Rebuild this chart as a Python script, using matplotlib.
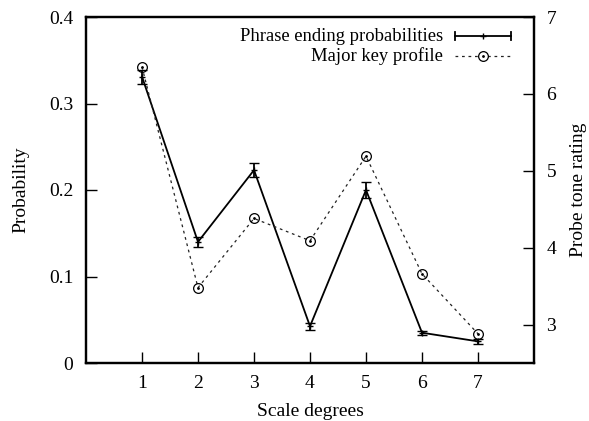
import matplotlib
matplotlib.use("Agg")
import matplotlib.pyplot as plt

plt.rcParams['font.family'] = ['Liberation Serif', 'DejaVu Serif']
plt.rcParams['font.size'] = 14

# scale degrees
degrees = [1, 2, 3, 4, 5, 6, 7]
# phrase ending probabilities and their error bars (left axis)
ending_prob = [0.331, 0.140, 0.223, 0.0425, 0.200, 0.035, 0.025]
ending_err = [0.008, 0.006, 0.008, 0.004, 0.009, 0.0025, 0.0025]
# Krumhansl-Kessler major key profile (right axis)
major_profile = [6.35, 3.48, 4.38, 4.09, 5.19, 3.66, 2.88]

fig = plt.figure(figsize=(5.89, 4.21), dpi=100)
ax = fig.add_axes([86/589, 58/421, 448/589, 346/421])
ax2 = ax.twinx()

ax.errorbar(degrees, ending_prob, yerr=ending_err, fmt='-', color='black',
            lw=1.3, capsize=3.3, capthick=1.3, elinewidth=1.3,
            marker='+', markersize=4, markeredgewidth=1)
ax2.plot(degrees, major_profile, color='#222222', lw=0.9, dashes=(2.2, 3),
         marker='o', markersize=7, markerfacecolor='none',
         markeredgecolor='black', markeredgewidth=0.9)
ax2.plot(degrees, major_profile, ls='none', color='black', marker='.', markersize=2)

ax.set_xlim(0, 8)
ax.set_ylim(0, 0.4)
ax2.set_ylim(2.5, 7)
ax.set_xticks(degrees)
ax.set_yticks([0, 0.1, 0.2, 0.3, 0.4])
ax.set_yticklabels(['0', '0.1', '0.2', '0.3', '0.4'])
ax2.set_yticks([3, 4, 5, 6, 7])

ax.tick_params(axis='both', direction='in', length=8, width=1, pad=9,
               top=False, right=False)
ax2.tick_params(axis='y', direction='in', length=8, width=1, pad=9)
for a in (ax, ax2):
    for s in a.spines.values():
        s.set_linewidth(1.6)

ax.set_xlabel('Scale degrees')
ax.set_ylabel('Probability')
ax2.set_ylabel('Probe tone rating')
ax.xaxis.set_label_coords(0.5, -0.115)
ax.yaxis.set_label_coords(-0.127, 0.5)
ax2.yaxis.set_label_coords(1.08, 0.5)

# gnuplot style key: text on the left, sample on the right
ax2.text(0.797, 0.945, 'Phrase ending probabilities', transform=ax.transAxes,
         ha='right', va='center', fontsize=13.4)
ax2.text(0.797, 0.887, 'Major key profile', transform=ax.transAxes,
         ha='right', va='center', fontsize=13.4)
ax2.plot([0.824, 0.949], [0.945, 0.945], transform=ax.transAxes, color='black', lw=1.3)
for xc in (0.824, 0.949):
    ax2.plot([xc, xc], [0.933, 0.957], transform=ax.transAxes, color='black', lw=1.3)
ax2.plot([0.8865], [0.945], transform=ax.transAxes, color='black',
         marker='+', markersize=4, markeredgewidth=1)
ax2.plot([0.824, 0.949], [0.887, 0.887], transform=ax.transAxes, color='#222222',
         lw=0.9, dashes=(2.2, 3))
ax2.plot([0.8865], [0.887], transform=ax.transAxes, color='black', marker='o',
         markersize=7, markerfacecolor='white', markeredgewidth=0.9)
ax2.plot([0.8865], [0.887], transform=ax.transAxes, color='black', marker='.', markersize=2)

fig.savefig('out.png', dpi=100)
